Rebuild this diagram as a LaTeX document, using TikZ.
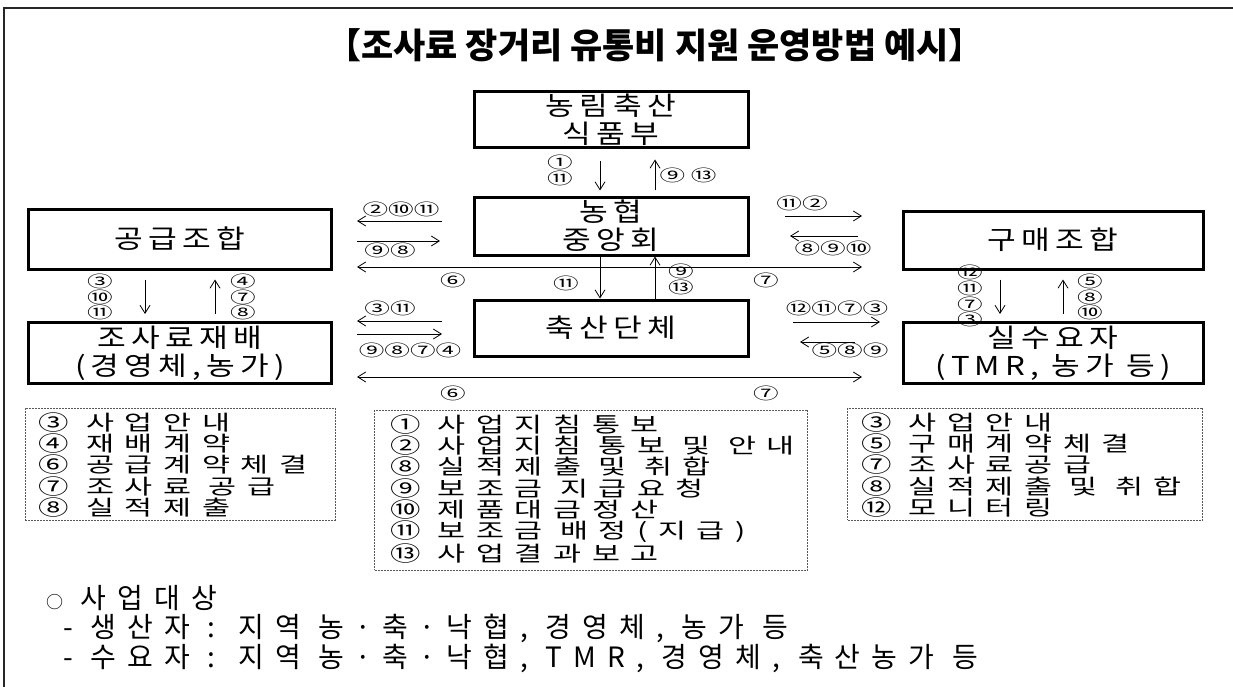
\documentclass[tikz,border=0pt]{standalone}
\usepackage{fontspec}
\usetikzlibrary{arrows.meta}
\setmainfont{Noto Sans CJK KR}
\newfontfamily\titlefont{Noto Sans CJK KR}
\newfontfamily\boxfont[LetterSpace=20,FakeStretch=1.2]{Noto Sans CJK KR}
\newfontfamily\listfont[LetterSpace=50,FakeStretch=1.45]{Noto Sans CJK KR}
\newfontfamily\numfont[FakeStretch=1.6]{Noto Sans CJK KR}
\newfontfamily\notefont[LetterSpace=40]{Noto Sans CJK KR}
\begin{document}
\begin{tikzpicture}[x=1pt,y=-1pt,
  bigbox/.style={draw, line width=3pt, align=center, inner sep=0pt,
    font={\boxfont\fontsize{26}{28}\selectfont}},
  arr/.style={-{Straight Barb[length=8pt,width=10pt]}, line width=0.8pt},
  darr/.style={{Straight Barb[length=8pt,width=10pt]}-{Straight Barb[length=8pt,width=10pt]}, line width=0.8pt},
  num/.style={font={\numfont\fontsize{16}{13.5}\selectfont}, inner sep=0pt, align=center},
  dbox/.style={draw=black!65, dash pattern=on 2pt off 1pt, line width=1pt, inner sep=0pt},
  listtxt/.style={anchor=north west, align=left, inner sep=0pt,
    font={\listfont\fontsize{21}{21.2}\selectfont}},
  note/.style={anchor=west, inner sep=0pt, font={\notefont\fontsize{28}{30}\selectfont}}
]
\useasboundingbox (0,0) rectangle (1233,687);
% outer frame
\coordinate (fbl) at (4,687);
\coordinate (ftl) at (4,8);
\coordinate (ftr) at (1233,8);
\draw[line width=2pt, black!85] (fbl) -- (ftl) -- (ftr);

% title
\node[font={\titlefont\bfseries\fontsize{35}{38}\selectfont}] (title) at (655,45)
  {【조사료 장거리 유통비 지원 운영방법 예시】};

% main boxes
\node[bigbox, minimum width=274, minimum height=56] (mafra) at (611,120) {농림축산\\식품부};
\node[bigbox, minimum width=274, minimum height=58] (nh) at (611,226) {농협\\중앙회};
\node[bigbox, minimum width=274, minimum height=56] (chuk) at (611,328) {축산단체};
\node[bigbox, minimum width=303, minimum height=60] (gong) at (180,239) {공급조합};
\node[bigbox, minimum width=303, minimum height=61] (jae) at (180,353) {조사료재배\\(경영체,농가)};
\node[bigbox, minimum width=300, minimum height=58] (gumae) at (1053,240) {구매조합};
\node[bigbox, minimum width=300, minimum height=61] (sil) at (1053,353) {실수요자\\(TMR, 농가 등)};

% mafra <-> nh
\draw[arr, shorten <=12pt, shorten >=5pt] ([xshift=-11pt]mafra.south) -- ([xshift=-11pt]nh.north);
\draw[arr, shorten <=5pt, shorten >=10pt] ([xshift=44pt]nh.north) -- ([xshift=44pt]mafra.south);
\node[num] (l1) at (560,170) {①\\⑪};
\node[num] (l2) at (688,175) {⑨ ⑬};

% nh <-> chuk
\draw[arr] ([xshift=-11pt]nh.south) -- ([xshift=-11pt]chuk.north);
\draw[arr] ([xshift=44pt]chuk.north) -- ([xshift=44pt]nh.south);
\node[num] (l3) at (566,283) {⑪};
\node[num] (l4) at (681,279) {⑨\\⑬};

% left of nh
\coordinate (a1s) at (442,221); \coordinate (a1e) at (357,221);
\draw[arr] (a1s) -- (a1e);
\node[num] (l5) at (401,209) {②⑩⑪};
\coordinate (a2s) at (357,241); \coordinate (a2e) at (440,241);
\draw[arr] (a2s) -- (a2e);
\node[num] (l6) at (390,250) {⑨⑧};

% right of nh
\coordinate (b1s) at (785,216); \coordinate (b1e) at (862,216);
\draw[arr] (b1s) -- (b1e);
\node[num] (l7) at (802,203) {⑪②};
\coordinate (b2s) at (858,236); \coordinate (b2e) at (790,236);
\draw[arr] (b2s) -- (b2e);
\node[num] (l8) at (833,248) {⑧⑨⑩};

% row 1 long arrow
\coordinate (r1l) at (357,267); \coordinate (r1r) at (862,267);
\draw[darr] (r1l) -- (r1r);
\node[num] (l9) at (453,280) {⑥};
\node[num] (l10) at (766,280) {⑦};

% left of chuk
\coordinate (a3s) at (442,321); \coordinate (a3e) at (357,321);
\draw[arr] (a3s) -- (a3e);
\node[num] (l11) at (390,308) {③⑪};
\coordinate (a4s) at (357,334); \coordinate (a4e) at (442,334);
\draw[arr] (a4s) -- (a4e);
\node[num] (l12) at (410,350) {⑨⑧⑦④};

% right of chuk
\coordinate (b3s) at (793,322); \coordinate (b3e) at (880,322);
\draw[arr] (b3s) -- (b3e);
\node[num] (l13) at (837,308) {⑫⑪⑦③};
\coordinate (b4s) at (855,342); \coordinate (b4e) at (800,342);
\draw[arr] (b4s) -- (b4e);
\node[num] (l14) at (850,350) {⑤⑧⑨};

% row 2 long arrow
\coordinate (r2l) at (357,377); \coordinate (r2r) at (862,377);
\draw[darr] (r2l) -- (r2r);
\node[num] (l15) at (453,393) {⑥};
\node[num] (l16) at (766,393) {⑦};

% gong <-> jae
\draw[arr, shorten <=9pt, shorten >=7pt] ([xshift=-35pt]gong.south) -- ([xshift=-35pt]jae.north);
\draw[arr, shorten <=7pt, shorten >=9pt] ([xshift=35pt]jae.north) -- ([xshift=35pt]gong.south);
\node[num] (l17) at (100,297) {③\\⑩\\⑪};
\node[num] (l18) at (243,297) {④\\⑦\\⑧};

% gumae <-> sil
\draw[arr, shorten <=9pt, shorten >=7pt] ([xshift=-53pt]gumae.south) -- ([xshift=-53pt]sil.north);
\draw[arr, shorten <=7pt, shorten >=9pt] ([xshift=10pt]sil.north) -- ([xshift=10pt]gumae.south);
\node[num] (l19) at (970,296) {⑫\\⑪\\⑦\\③};
\node[num] (l20) at (1090,297) {⑤\\⑧\\⑩};

% legend boxes
\node[dbox, minimum width=310, minimum height=112] (lb) at (180,464) {};
\node[listtxt] (lbt) at ([xshift=14pt,yshift=-5pt]lb.north west)
  {③ 사업안내\\④ 재배계약\\⑥ 공급계약체결\\⑦ 조사료 공급\\⑧ 실적제출};
\node[dbox, minimum width=433, minimum height=160] (cb) at (591,490) {};
\node[listtxt] (cbt) at ([xshift=16pt,yshift=-5pt]cb.north west)
  {① 사업지침통보\\② 사업지침 통보 및 안내\\⑧ 실적제출 및 취합\\⑨ 보조금 지급요청\\⑩ 제품대금정산\\⑪ 보조금 배정(지급)\\⑬ 사업결과보고};
\node[dbox, minimum width=355, minimum height=112] (rb) at (1025,464) {};
\node[listtxt] (rbt) at ([xshift=14pt,yshift=-5pt]rb.north west)
  {③ 사업안내\\⑤ 구매계약체결\\⑦ 조사료공급\\⑧ 실적제출 및 취합\\⑫ 모니터링};

% notes
\node[note] (n1) at (46,598) {{\fontsize{17}{20}\selectfont ○}\ 사업대상};
\node[note] (n2) at (63,628) {- 생산자 : 지역 농·축·낙협, 경영체, 농가 등};
\node[note] (n3) at (63,658) {- 수요자 : 지역 농·축·낙협, TMR, 경영체, 축산농가 등};
\end{tikzpicture}
\end{document}
